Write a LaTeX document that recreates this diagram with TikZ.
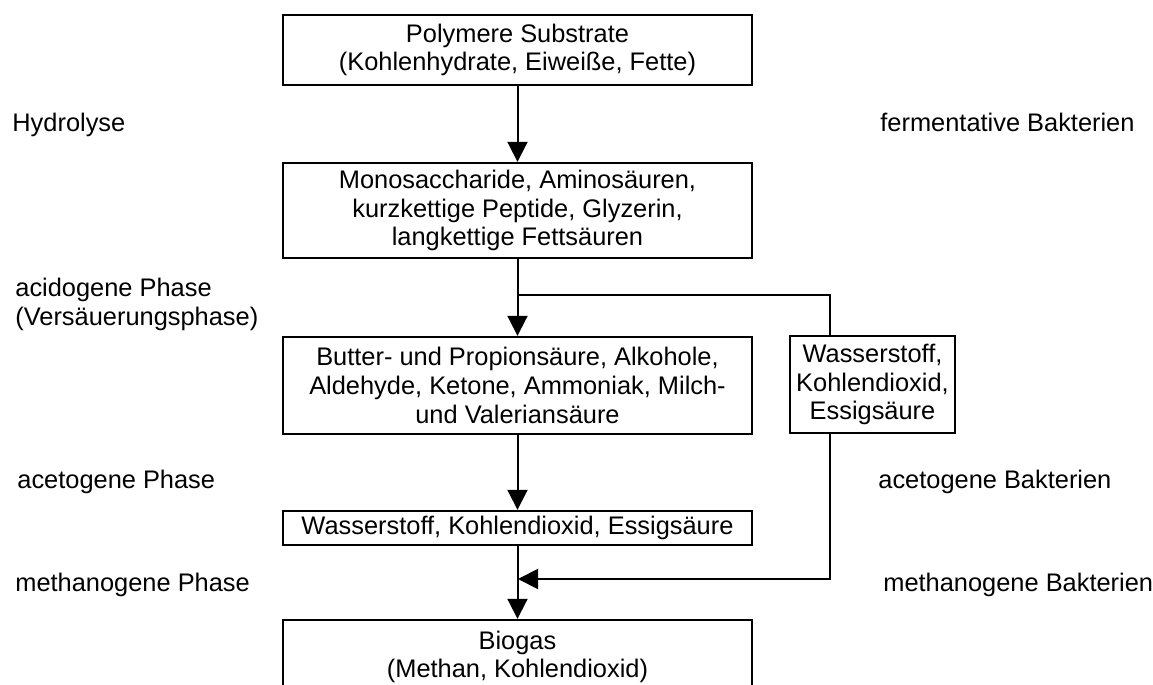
\documentclass[tikz,border=0pt]{standalone}
\usepackage{fontspec}
\setmainfont{Liberation Sans}
\usetikzlibrary{arrows.meta}
\newcommand{\flowfont}{\fontsize{12.7pt}{14.3pt}\selectfont}

\tikzset{
  stage/.style={draw, line width=1.2pt, align=center, inner sep=0pt, font=\flowfont},
  phase/.style={anchor=base west, inner sep=0pt, align=left, font=\flowfont},
  flow/.style={line width=1pt, -{Triangle[length=10pt,width=10pt]}},
  link/.style={line width=1pt}
}

\begin{document}
\begin{tikzpicture}[x=0.5pt, y=-0.5pt]
    \useasboundingbox (0,0) rectangle (1153,685);
    \clip (0,0) rectangle (1153,685);

    % Stages
    \node[stage, minimum width=234.5pt, minimum height=35pt] (sub) at (517.5,50)
        {Polymere Substrate\\(Kohlenhydrate, Eiweiße, Fette)};
    \node[stage, minimum width=234.5pt, minimum height=47.5pt] (mono) at (517.5,210.5)
        {Monosaccharide, Aminosäuren,\\kurzkettige Peptide, Glyzerin,\\langkettige Fettsäuren};
    \node[stage, minimum width=234.5pt, minimum height=48.5pt] (acid) at (517.5,385.5)
        {Butter- und Propionsäure, Alkohole,\\Aldehyde, Ketone, Ammoniak, Milch-\\und Valeriansäure};
    \node[stage, minimum width=82.5pt, minimum height=48.5pt] (gasside) at (872.5,384.5)
        {Wasserstoff,\\Kohlendioxid,\\Essigsäure};
    \node[stage, minimum width=234.5pt, minimum height=17pt] (gas) at (517.5,528)
        {Wasserstoff, Kohlendioxid, Essigsäure};
    \node[stage, minimum width=234.5pt, minimum height=37pt] (bio) at (517.5,657)
        {Biogas\\(Methan, Kohlendioxid)};

    % Phases
    \node[phase] (hyd) at (12,131) {Hydrolyse};
    \node[phase] (acido) at (15,325) {acidogene Phase\\(Versäuerungsphase)};
    \node[phase] (aceto) at (17,488) {acetogene Phase};
    \node[phase] (metha) at (15,591) {methanogene Phase};

    % Bacteria
    \node[phase] (ferm) at (880,131) {fermentative Bakterien};
    \node[phase] (acetob) at (878,488) {acetogene Bakterien};
    \node[phase] (methab) at (883,591) {methanogene Bakterien};

    % Main chain
    \draw[flow] (sub) -- (mono);
    \draw[flow] (mono) -- (acid);
    \draw[flow] (acid) -- (gas);
    \draw[flow] (gas) -- (bio);

    % Side branch
    \coordinate (split) at (517.5,295);
    \coordinate (branch) at (830,295);
    \coordinate (join) at (518,579);
    \draw[link] (split) -- (branch) -- (branch |- gasside.north);
    \draw[flow] (branch |- gasside.south) |- (join);
\end{tikzpicture}
\end{document}
